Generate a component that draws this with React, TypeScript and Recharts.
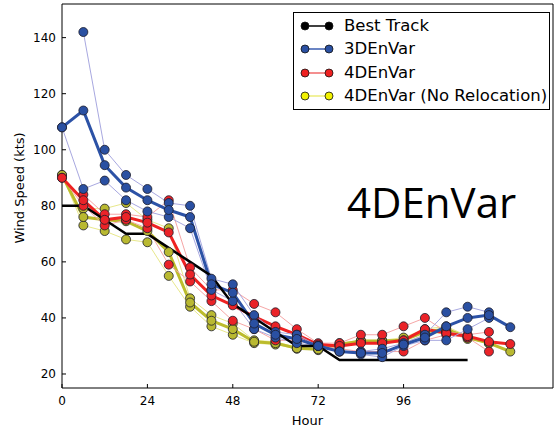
import React from 'react';
import { LineChart, Line, XAxis, YAxis, Legend } from 'recharts';

// forecast hour, 6-hourly
const hours = [0, 6, 12, 18, 24, 30, 36, 42, 48, 54, 60, 66, 72, 78, 84, 90, 96, 102, 108, 114, 120, 126];

const bestTrack = [80, 80, 75, 70, 70, 65, 60, 55, 45, 40, 35, 30, 30, 25, 25, 25, 25, 25, 25, 25, null, null];

const envar3dA = [null, 142, 100, 91, 86, 81, 80, 54, 52, 41, 35, 34, 30, 28, 28, 29, 31, 34, 42, 44, 42, null];
const envar3dB = [108, 86, 89, 82, 78, 76, 72, 50, 46, 36, 33, 31, 30, 28, 27, 26, 30, 32, 32, 36, 40, null];
const envar3dMean = [108, 114, 94.5, 86.5, 82, 78.5, 76, 52, 49, 38, 34, 32.5, 30, 28, 27.5, 27.5, 30.5, 33, 37, 40, 41, 36.7];

const envar4dA = [null, 84, 77, 77, 76, 82, 58, 50, 50, 45, 42, 36, 31, 31, 34, 34, 37, 40, 35, 34, 35, null];
const envar4dB = [90, 80, 73, 75, 72, 59, 53, 46, 39, 36, 32, 32, 30, 29, 28, 28, 28, 32, 34, 33, 28, null];
const envar4dMean = [90, 82, 75, 76, 74, 70.5, 55.5, 48, 44.5, 40.5, 37, 34, 30.5, 30, 31, 31, 32, 36, 34.5, 33.5, 31.5, 30.7];

const noRelocA = [null, 79, 79, 81, 75, 72, 47, 41, 38, 32, 31.5, 29.5, 29, 31, 32, 32, 33, 36, 37, 33.5, 31, null];
const noRelocB = [91, 73, 71, 68, 67, 55, 44, 37, 34, 31, 30.5, 29, 28.5, 30, 31.5, 31.5, 31, 34, 35, 32.5, 31, null];
const noRelocMean = [91, 76, 75, 74.5, 71, 63.5, 45.5, 39, 36, 31.5, 31, 29.2, 28.8, 30.5, 31.8, 31.8, 32, 35, 36, 33, 31, 28];

const xTicks = [0, 24, 48, 72, 96];
const yTicks = [20, 40, 60, 80, 100, 120, 140];

const data = hours.map((h, i) => ({
  hour: h,
  best: bestTrack[i],
  b1: envar3dA[i],
  b2: envar3dB[i],
  bm: envar3dMean[i],
  r1: envar4dA[i],
  r2: envar4dB[i],
  rm: envar4dMean[i],
  y1: noRelocA[i],
  y2: noRelocB[i],
  ym: noRelocMean[i],
}));

const FONT = '"DejaVu Sans", sans-serif';

const BLUE = '#2a50a2';
const RED = '#ea2328';
const OLIVE = '#b9b931';

const legendItems = [
  { label: 'Best Track', line: '#000', fill: '#000' },
  { label: '3DEnVar', line: '#3a5cb0', fill: '#2a50a2' },
  { label: '4DEnVar', line: '#f06a6a', fill: '#ee2020' },
  { label: '4DEnVar (No Relocation)', line: '#eded7a', fill: '#f2f200' },
];

function renderLegend() {
  return (
    <div
      style={{
        width: 257,
        height: 98,
        boxSizing: 'border-box',
        border: '1px solid #000',
        background: '#fff',
        fontFamily: FONT,
        fontSize: 16.5,
        paddingTop: 1,
      }}
    >
      {legendItems.map((it) => (
        <div key={it.label} style={{ display: 'flex', alignItems: 'center', height: 23.5 }}>
          <svg width={50} height={14} style={{ marginLeft: 4 }}>
            <line x1={7} y1={7} x2={31} y2={7} stroke={it.line} strokeWidth={1.5} />
            <circle cx={7} cy={7} r={4} fill={it.fill} stroke="#111" strokeWidth={0.8} />
            <circle cx={31} cy={7} r={4} fill={it.fill} stroke="#111" strokeWidth={0.8} />
          </svg>
          <span style={{ color: '#000', marginLeft: -4, lineHeight: 1 }}>{it.label}</span>
        </div>
      ))}
    </div>
  );
}

const dotStyle = (fill: string) => ({ r: 4.5, fill, stroke: '#1c1c2a', strokeWidth: 0.8 });

const tickStyle = { fill: '#000', fontSize: 12, fontFamily: FONT };

export default function App() {
  return (
    <div style={{ position: 'absolute', left: 0, top: 0, width: 554, height: 429, background: '#fff' }}>
      <LineChart width={554} height={429} data={data} margin={{ top: 3, right: 0, left: 0, bottom: 0 }}>
        <XAxis
          dataKey="hour"
          type="number"
          domain={[0, 138]}
          ticks={xTicks}
          height={41}
          stroke="#000"
          tickSize={-4}
          tickMargin={12}
          tick={tickStyle}
          label={{ value: 'Hour', position: 'insideBottom', offset: 4, fill: '#000', fontSize: 13, fontFamily: FONT }}
        />
        <XAxis
          xAxisId="top"
          orientation="top"
          dataKey="hour"
          type="number"
          domain={[0, 138]}
          ticks={xTicks}
          height={1}
          stroke="#000"
          tickSize={-4}
          tick={false}
        />
        <YAxis
          domain={[15, 152]}
          ticks={yTicks}
          width={62}
          stroke="#000"
          tickSize={-4}
          tickMargin={10}
          tick={tickStyle}
          label={(props: any) => {
            const vb = props.viewBox;
            const cx = 24;
            const cy = vb.y + vb.height / 2 - 8;
            return (
              <text
                x={cx}
                y={cy}
                transform={`rotate(-90 ${cx} ${cy})`}
                textAnchor="middle"
                fontSize={13}
                fontFamily={FONT}
                fill="#000"
              >
                Wind Speed (kts)
              </text>
            );
          }}
        />
        <YAxis
          yAxisId="right"
          orientation="right"
          domain={[15, 152]}
          ticks={yTicks}
          width={1}
          stroke="#000"
          tickSize={-4}
          tick={false}
        />
        <Legend
          layout="vertical"
          align="center"
          verticalAlign="middle"
          content={renderLegend}
          wrapperStyle={{ left: 293, top: 12, width: 257, height: 98 }}
        />

        <Line dataKey="y1" stroke="#e8e88c" strokeWidth={1} dot={dotStyle(OLIVE)} isAnimationActive={false} legendType="none" />
        <Line dataKey="y2" stroke="#e8e88c" strokeWidth={1} dot={dotStyle(OLIVE)} isAnimationActive={false} legendType="none" />
        <Line dataKey="ym" stroke="#bcbc2c" strokeWidth={3} dot={dotStyle(OLIVE)} isAnimationActive={false} />

        <Line dataKey="r1" stroke="#f6a6a6" strokeWidth={1} dot={dotStyle(RED)} isAnimationActive={false} legendType="none" />
        <Line dataKey="r2" stroke="#f6a6a6" strokeWidth={1} dot={dotStyle(RED)} isAnimationActive={false} legendType="none" />
        <Line dataKey="rm" stroke="#ee2222" strokeWidth={3} dot={dotStyle(RED)} isAnimationActive={false} />

        <Line dataKey="b1" stroke="#a8a8e0" strokeWidth={1} dot={dotStyle(BLUE)} isAnimationActive={false} legendType="none" />
        <Line dataKey="b2" stroke="#a8a8e0" strokeWidth={1} dot={dotStyle(BLUE)} isAnimationActive={false} legendType="none" />
        <Line dataKey="bm" stroke="#2c52a6" strokeWidth={3} dot={dotStyle(BLUE)} isAnimationActive={false} />

        <Line dataKey="best" stroke="#000" strokeWidth={2.5} dot={false} isAnimationActive={false} />
      </LineChart>
      <svg width={554} height={429} style={{ position: 'absolute', left: 0, top: 0, pointerEvents: 'none' }}>
        <text x={347} y={218} fontSize={42} fontFamily='"Open Sans", sans-serif' fill="#000">
          4DEnVar
        </text>
      </svg>
    </div>
  );
}
